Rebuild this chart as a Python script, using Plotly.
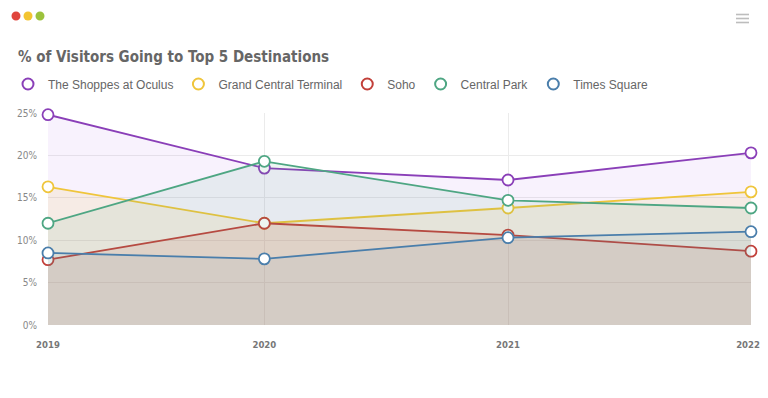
import plotly.graph_objects as go

# ---- data ----
dates = ["2019-02-10", "2020-01-01", "2021-01-01", "2022-01-01"]
year_labels = ["2019", "2020", "2021", "2022&nbsp;&nbsp;"]

series_names = ["The Shoppes at Oculus", "Grand Central Terminal", "Soho", "Central Park", "Times Square"]
oculus = [24.8, 18.5, 17.1, 20.3]
grand_central = [16.3, 12.0, 13.8, 15.7]
soho = [7.7, 12.0, 10.6, 8.7]
central_park = [12.0, 19.3, 14.7, 13.8]
times_square = [8.5, 7.8, 10.3, 11.0]

y_ticks = [0, 5, 10, 15, 20, 25]
y_tick_labels = ["0%", "5%", "10%", "15%", "20%", "25%"]

colors = ["#8a3fb8", "#efc53b", "#c2403a", "#4ea683", "#4a7eab"]
fills = ["rgba(165,95,225,0.08)", "rgba(239,190,59,0.12)", "rgba(194,70,58,0.12)",
         "rgba(78,166,131,0.10)", "rgba(74,126,171,0.07)"]

values = [oculus, grand_central, soho, central_park, times_square]

fig = go.Figure()
for name, vals, c, fc in zip(series_names, values, colors, fills):
    fig.add_trace(go.Scatter(
        x=dates, y=vals, name=name, mode="lines+markers",
        line=dict(color=c, width=1.8),
        marker=dict(symbol="circle", size=11, color="white", line=dict(color=c, width=1.8)),
        fill="tozeroy", fillcolor=fc, showlegend=False, hoverinfo="x+y+name",
        cliponaxis=False,
    ))
# legend-only entries (open circles)
for name, c in zip(series_names, colors):
    fig.add_trace(go.Scatter(
        x=[None], y=[None], name=name, mode="markers",
        marker=dict(symbol="circle-open", size=11, color=c, line=dict(color=c, width=2)),
        showlegend=True,
    ))

cond = "DejaVu Sans Condensed, Roboto, sans-serif"

W, H = 760, 390  # page body has an 8px margin
L, R, T, B = 40, 17, 105, 73
PW, PH = W - L - R, H - T - B

fig.update_layout(
    width=W, height=H,
    margin=dict(l=L, r=R, t=T, b=B, autoexpand=False),
    paper_bgcolor="white", plot_bgcolor="white",
    title=dict(text="<b>% of Visitors Going to Top 5 Destinations</b>",
               font=dict(family=cond, size=15, color="#666666"),
               x=10 / W, xanchor="left", xref="container",
               y=1 - 49 / H, yanchor="middle", yref="container"),
    legend=dict(orientation="h", x=0, xanchor="left", xref="container",
                y=1 - 76 / H, yanchor="middle", yref="container",
                font=dict(family="Liberation Sans, Arial, sans-serif", size=12, color="#666666"),
                itemclick=False, itemdoubleclick=False, tracegroupgap=0),
    showlegend=True,
    xaxis=dict(type="date", range=[dates[0], dates[-1]],
               tickmode="array", tickvals=dates, ticktext=["<b>%s</b>" % t for t in year_labels],
               tickfont=dict(family=cond, size=9.5, color="#777777"),
               showgrid=True, gridcolor="#ebebeb", gridwidth=1,
               zeroline=False, showline=False, ticks="", ticklabelstandoff=12,
               fixedrange=True, automargin=False),
    yaxis=dict(range=[0, 25], tickmode="array", tickvals=y_ticks, ticktext=y_tick_labels,
               tickfont=dict(family=cond, size=10, color="#888888"),
               showgrid=True, gridcolor="#ebebeb", gridwidth=1,
               zeroline=False, showline=False, ticks="", ticklabelstandoff=10,
               fixedrange=True, automargin=False),
    hovermode="closest",
)

def px_x(x):
    return (x - L) / PW

def px_y(y):
    return (H - B - y) / PH

# window decorations
for cx, col in [(8, "#e0453d"), (20, "#f3c431"), (32, "#9cc23c")]:
    fig.add_shape(type="circle", xref="paper", yref="paper", layer="above",
                  x0=px_x(cx - 4.5), x1=px_x(cx + 4.5),
                  y0=px_y(8 + 4.5), y1=px_y(8 - 4.5),
                  fillcolor=col, line=dict(width=0))
for yy in [6.5, 10.5, 14.5]:
    fig.add_shape(type="line", xref="paper", yref="paper",
                  x0=px_x(728), x1=px_x(741), y0=px_y(yy), y1=px_y(yy),
                  line=dict(color="#bdbdbd", width=1.6))

fig.write_html("out.html")
